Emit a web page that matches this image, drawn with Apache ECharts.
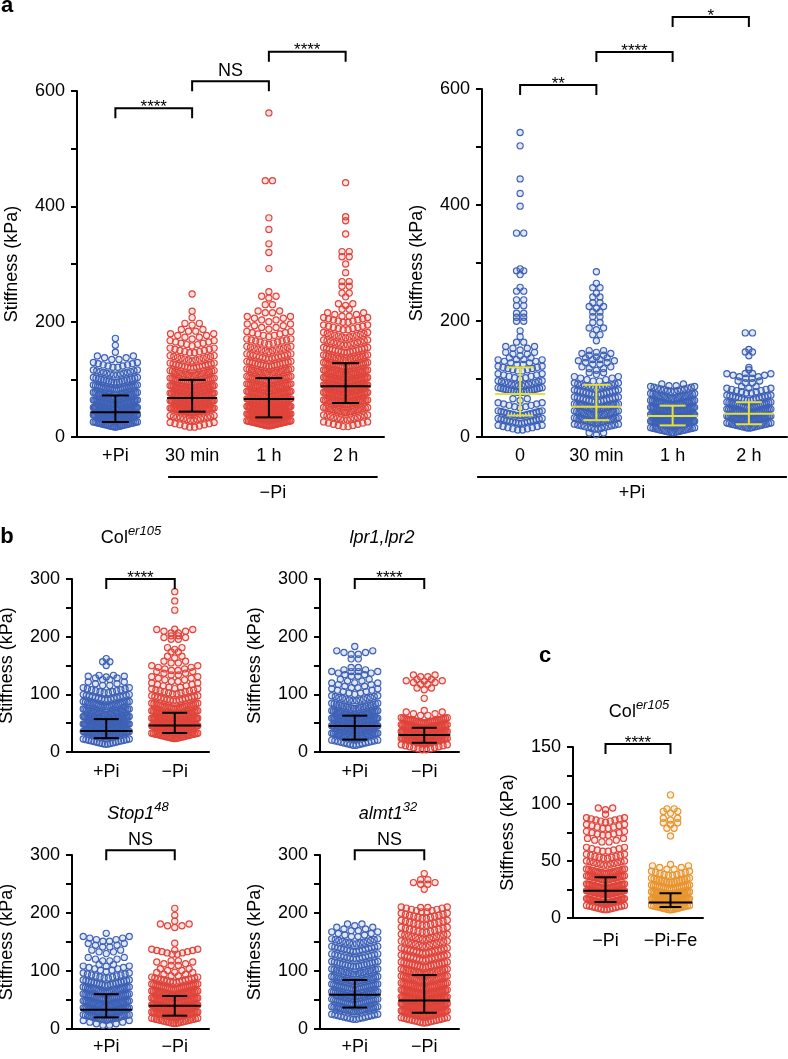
<!DOCTYPE html>
<html><head><meta charset="utf-8">
<script src="https://cdn.jsdelivr.net/npm/echarts@6/dist/echarts.min.js"></script>
<style>html,body{margin:0;padding:0;background:#fff}#c{width:788px;height:1059px}</style>
</head><body><div id="c"></div>
<script>
// ---------------- DATA ----------------
// rows: [stiffness value (kPa), number of points in that row]
const catsA1 = ['+Pi', '30 min', '1 h', '2 h'];
const catsA2 = ['0', '30 min', '1 h', '2 h'];
const catsB = ['+Pi', '\u2212Pi'];
const catsC = ['\u2212Pi', '\u2212Pi-Fe'];

const aL_plusPi = [[171,1],[159,1],[147,1],[133,6],[120,10],[107,14],[94,18],[81,22],[68,26],[55,32],[42,40],[29,36],[17,26]];
const aL_30min = [[248,1],[218,1],[207,1],[194,3],[182,4],[170,7],[158,9],[145,10],[132,13],[119,16],[106,20],[93,24],[80,28],[67,32],[54,34],[41,30],[28,14],[16,10]];
const aL_1h = [[562,1],[443,2],[380,1],[360,1],[335,1],[320,1],[292,1],[252,1],[241,3],[228,2],[214,4],[200,7],[187,7],[174,9],[161,11],[148,13],[135,15],[122,17],[109,20],[96,23],[83,26],[70,30],[57,33],[44,36],[31,42],[19,30]];
const aL_2h = [[441,1],[382,1],[375,1],[352,1],[320,2],[311,2],[300,1],[285,1],[268,2],[260,2],[248,2],[243,1],[228,3],[220,2],[208,6],[198,10],[185,10],[172,13],[159,14],[146,16],[133,19],[120,22],[107,26],[94,30],[81,32],[68,30],[55,26],[42,20],[29,14],[17,10]];
const aL_median = [43, 67.5, 66, 88];
const aL_q1 = [26, 44, 34, 59];
const aL_q3 = [72, 99, 102, 128];
const aL_sig = [[0,1,570,'****'],[1,2,617,'NS'],[2,3,668,'****']];

const aR_0 = [[525,1],[502,1],[445,1],[420,1],[398,1],[350,2],[290,1],[285,2],[280,1],[258,1],[250,2],[235,2],[225,2],[212,2],[205,2],[198,2],[183,1],[173,1],[162,2],[150,5],[140,5],[132,4],[124,8],[113,10],[100,9],[88,14],[76,18],[63,3],[50,9],[36,16],[23,16],[11,10]];
const aR_30min = [[285,1],[265,1],[256,2],[248,1],[240,2],[230,2],[222,3],[214,2],[206,2],[196,2],[185,3],[175,2],[166,1],[146,3],[138,5],[132,4],[124,6],[115,5],[108,3],[95,8],[84,14],[72,16],[60,16],[48,20],[36,20],[24,20],[13,14],[4,3]];
const aR_1h = [[87,4],[78,14],[66,20],[54,26],[42,32],[30,38],[18,38],[7,20]];
const aR_2h = [[178,2],[151,1],[145,2],[140,1],[120,1],[116,1],[108,2],[100,8],[92,4],[84,3],[75,10],[63,16],[51,22],[39,26],[27,28],[15,20]];
const aR_median = [74, 52, 36, 40];
const aR_q1 = [37, 29, 20, 22];
const aR_q3 = [120, 90, 54, 60];
const aR_sig = [[0,1,607,'**'],[1,2,664,'****'],[2,3,724,'*']];

const col_plus = [[162,1],[155,2],[150,1],[130,3],[124,6],[114,6],[102,12],[90,16],[78,22],[65,28],[52,36],[39,40],[26,34],[13,18]];
const col_minus = [[278,1],[262,1],[246,1],[213,1],[205,6],[200,2],[194,4],[178,3],[172,2],[163,3],[153,4],[140,8],[132,6],[121,8],[110,9],[100,12],[88,16],[75,22],[62,30],[49,36],[36,36],[23,28]];
const col_median = [36.6, 46], col_q1 = [24, 33], col_q3 = [57, 68];
const col_sig = [[0,1,300,'****']];

const lpr_plus = [[183,1],[168,6],[160,2],[145,2],[138,4],[130,8],[120,5],[110,8],[100,9],[88,14],[75,20],[62,28],[49,34],[36,34],[23,28],[11,16]];
const lpr_minus = [[129,4],[123,3],[116,6],[108,3],[93,1],[72,1],[62,6],[50,26],[38,32],[26,38],[14,34],[3,12]];
const lpr_median = [45, 29.6], lpr_q1 = [21.5, 16], lpr_q3 = [63, 42];
const lpr_sig = [[0,1,300,'****']];

const stop_plus = [[165,1],[150,8],[140,6],[130,5],[116,6],[108,3],[99,9],[87,12],[75,18],[63,22],[51,26],[39,28],[27,28],[15,22],[5,8]];
const stop_minus = [[208,1],[196,1],[186,1],[175,5],[148,1],[136,1],[128,10],[116,2],[108,6],[98,5],[90,6],[80,16],[68,24],[56,28],[44,32],[32,34],[20,32],[9,20]];
const stop_median = [33, 40], stop_q1 = [20, 23], stop_q3 = [60, 57];
const stop_sig = [[0,1,308,'NS']];

const almt_plus = [[178,3],[168,6],[158,8],[146,14],[133,16],[120,16],[107,18],[94,20],[81,22],[68,24],[55,26],[42,24],[29,22],[16,16]];
const almt_minus = [[268,1],[256,2],[248,4],[241,1],[208,2],[201,10],[190,12],[178,12],[166,12],[154,14],[142,14],[130,16],[118,16],[106,18],[94,20],[82,22],[70,26],[58,30],[46,34],[34,36],[22,32],[10,18]];
const almt_median = [59, 49], almt_q1 = [37, 28], almt_q3 = [84.5, 93];
const almt_sig = [[0,1,308,'NS']];

const c_minusPi = [[95,3],[91,1],[84,9],[78,8],[72,8],[66,6],[58,8],[52,10],[46,12],[39,18],[33,22],[26,26],[20,28],[13,28],[7,14]];
const c_minusPiFe = [[108,1],[95,2],[92,3],[86,3],[82,3],[78,2],[72,1],[47,1],[42,6],[37,10],[31,16],[25,20],[19,24],[13,30],[7,18]];
const c_median = [24, 13.6], c_q1 = [14, 9.6], c_q3 = [35.7, 21.7];
const c_sig = [[0,1,152.6,'****']];

// ---------------- STYLE / LAYOUT ----------------
const BLUE = {stroke: '#3d61b6', fill: 'rgba(61,97,182,0.15)'};
const RED = {stroke: '#e0443a', fill: 'rgba(224,68,58,0.15)'};
const ORANGE = {stroke: '#e8952f', fill: 'rgba(232,149,47,0.15)'};
const YELLOW = '#e3df3c';
const FONT = '"Liberation Sans", Arial, Helvetica, sans-serif';

const panels = [
  {cats: catsA1, groups: [aL_plusPi, aL_30min, aL_1h, aL_2h], colors: [BLUE, RED, RED, RED],
   med: aL_median, q1: aL_q1, q3: aL_q3, sig: aL_sig, bar: '#000',
   left: 77, top: 91, width: 307, height: 346, max: 600, interval: 200, lm: 10, half: 22, medHalf: 25, capHalf: 13.5},
  {cats: catsA2, groups: [aR_0, aR_30min, aR_1h, aR_2h], colors: [BLUE, BLUE, BLUE, BLUE],
   med: aR_median, q1: aR_q1, q3: aR_q3, sig: aR_sig, bar: YELLOW,
   left: 482, top: 89, width: 305, height: 348, max: 600, interval: 200, lm: 10, half: 22, medHalf: 25, capHalf: 13},
  {cats: catsB, groups: [col_plus, col_minus], colors: [BLUE, RED],
   med: col_median, q1: col_q1, q3: col_q3, sig: col_sig, bar: '#000',
   left: 72, top: 579, width: 137, height: 173, max: 300, interval: 100, lm: 11, half: 23, medHalf: 26, capHalf: 12.5},
  {cats: catsB, groups: [lpr_plus, lpr_minus], colors: [BLUE, RED],
   med: lpr_median, q1: lpr_q1, q3: lpr_q3, sig: lpr_sig, bar: '#000',
   left: 320, top: 579, width: 139, height: 173, max: 300, interval: 100, lm: 11, half: 23, medHalf: 26, capHalf: 12.5},
  {cats: catsB, groups: [stop_plus, stop_minus], colors: [BLUE, RED],
   med: stop_median, q1: stop_q1, q3: stop_q3, sig: stop_sig, bar: '#000',
   left: 72, top: 855, width: 137, height: 174, max: 300, interval: 100, lm: 9, half: 23, medHalf: 26, capHalf: 12.5},
  {cats: catsB, groups: [almt_plus, almt_minus], colors: [BLUE, RED],
   med: almt_median, q1: almt_q1, q3: almt_q3, sig: almt_sig, bar: '#000',
   left: 320, top: 855, width: 139, height: 174, max: 300, interval: 100, lm: 9, half: 23, medHalf: 26, capHalf: 12.5},
  {cats: catsC, groups: [c_minusPi, c_minusPiFe], colors: [RED, ORANGE],
   med: c_median, q1: c_q1, q3: c_q3, sig: c_sig, bar: '#000',
   left: 573, top: 747, width: 130, height: 171, max: 150, interval: 50, lm: 14, half: 19, medHalf: 22, capHalf: 11}
];

// dot-plot row layout: spread the points of each row horizontally (pixel offsets)
function swarm(rows, ci, half) {
  const out = [];
  const sp0 = 7.2, k = 0.24;
  rows.forEach(([v, n]) => {
    let sp = sp0;
    if (n > 1 && (n - 1) * sp > 2 * half) sp = 2 * half / (n - 1);
    for (let i = 0; i < n; i++) {
      const dx = (i - (n - 1) / 2) * sp;
      out.push({value: [ci, v], symbolOffset: [dx, -k * Math.abs(dx)]});
    }
  });
  return out;
}

const grids = [], xAxes = [], yAxes = [], series = [];
panels.forEach((p, gi) => {
  grids.push({left: p.left, top: p.top, width: p.width, height: p.height, containLabel: false, outerBoundsMode: 'none'});
  xAxes.push({
    gridIndex: gi, type: 'category', data: p.cats, boundaryGap: true,
    axisLine: {lineStyle: {color: '#000', width: 2}},
    axisTick: {alignWithLabel: true, length: 6, lineStyle: {color: '#000', width: 2}},
    axisLabel: {color: '#000', fontSize: 18, fontFamily: FONT, margin: p.lm, interval: 0},
    splitLine: {show: false}
  });
  yAxes.push({
    gridIndex: gi, type: 'value', min: 0, max: p.max, interval: p.interval,
    axisLine: {show: true, lineStyle: {color: '#000', width: 2}},
    axisTick: {show: true, length: 6, lineStyle: {color: '#000', width: 2}},
    minorTick: {show: true, splitNumber: 2, length: 6, lineStyle: {color: '#000', width: 2}},
    axisLabel: {color: '#000', fontSize: 18, fontFamily: FONT, margin: 12},
    splitLine: {show: false}, minorSplitLine: {show: false},
    name: 'Stiffness (kPa)', nameLocation: 'middle', nameGap: 56, nameRotate: 90,
    nameTextStyle: {color: '#000', fontSize: 18, fontFamily: FONT}
  });
  p.groups.forEach((rows, ci) => {
    series.push({
      type: 'scatter', xAxisIndex: gi, yAxisIndex: gi, data: swarm(rows, ci, p.half),
      symbol: 'circle', symbolSize: 6.2, silent: true, animation: false, z: 2,
      large: false, progressive: 0,
      itemStyle: {color: p.colors[ci].fill, borderColor: p.colors[ci].stroke, borderWidth: 1.15, opacity: 1}
    });
  });
  // median + interquartile range
  series.push({
    type: 'custom', xAxisIndex: gi, yAxisIndex: gi, silent: true, animation: false, z: 5,
    data: p.med.map((m, i) => [i, m, p.q1[i], p.q3[i]]),
    encode: {x: 0, y: [1, 2, 3]},
    renderItem: (params, api) => {
      const i = api.value(0);
      const pm = api.coord([i, api.value(1)]);
      const pa = api.coord([i, api.value(2)]);
      const pb = api.coord([i, api.value(3)]);
      const st = {stroke: p.bar, lineWidth: 2};
      return {type: 'group', children: [
        {type: 'line', shape: {x1: pm[0] - p.medHalf, y1: pm[1], x2: pm[0] + p.medHalf, y2: pm[1]}, style: st},
        {type: 'line', shape: {x1: pm[0], y1: pa[1], x2: pm[0], y2: pb[1]}, style: st},
        {type: 'line', shape: {x1: pm[0] - p.capHalf, y1: pa[1], x2: pm[0] + p.capHalf, y2: pa[1]}, style: st},
        {type: 'line', shape: {x1: pm[0] - p.capHalf, y1: pb[1], x2: pm[0] + p.capHalf, y2: pb[1]}, style: st}
      ]};
    }
  });
  // significance brackets
  series.push({
    type: 'custom', xAxisIndex: gi, yAxisIndex: gi, silent: true, animation: false, clip: false, z: 6,
    data: p.sig.map(s => [s[0], s[2], s[1]]),
    encode: {x: [0, 2], y: 1},
    renderItem: (params, api) => {
      const s = p.sig[params.dataIndex];
      const a = api.coord([s[0], s[2]]);
      const b = api.coord([s[1], s[2]]);
      const drop = 10;
      const isStar = s[3].indexOf('*') >= 0;
      return {type: 'group', children: [
        {type: 'polyline', shape: {points: [[a[0], a[1] + drop], [a[0], a[1]], [b[0], a[1]], [b[0], a[1] + drop]]},
         style: {stroke: '#000', lineWidth: 2, fill: null}},
        {type: 'text', x: (a[0] + b[0]) / 2, y: isStar ? a[1] - 1 : a[1] - 10.5,
         style: {text: s[3], fill: '#000', fontSize: isStar ? 17 : 18, fontFamily: FONT,
                 align: 'center', verticalAlign: 'middle', textAlign: 'center', textVerticalAlign: 'middle'}}
      ]};
    }
  });
});

// group underline labels below panel a
const groupBars = [
  {grid: 0, from: 1, to: 3, extL: 24, extR: 32, label: '\u2212Pi'},
  {grid: 1, from: 0, to: 3, extL: 43, extR: 38, label: '+Pi'}
];
groupBars.forEach(g => {
  series.push({
    type: 'custom', xAxisIndex: g.grid, yAxisIndex: g.grid, silent: true, animation: false, clip: false, z: 6,
    data: [[g.from, 0, g.to]], encode: {x: [0, 2], y: 1},
    renderItem: (params, api) => {
      const a = api.coord([g.from, 0]);
      const b = api.coord([g.to, 0]);
      const y = a[1] + 40;
      return {type: 'group', children: [
        {type: 'line', shape: {x1: a[0] - g.extL, y1: y, x2: b[0] + g.extR, y2: y}, style: {stroke: '#000', lineWidth: 2}},
        {type: 'text', x: (a[0] - g.extL + b[0] + g.extR) / 2, y: y + 16,
         style: {text: g.label, fill: '#000', fontSize: 18, fontFamily: FONT,
                 align: 'center', verticalAlign: 'middle', textAlign: 'center', textVerticalAlign: 'middle'}}
      ]};
    }
  });
});

function txt(x, y, text, extra) {
  return Object.assign({type: 'text', x: x, y: y, silent: true,
    style: Object.assign({text: text, fill: '#000', fontSize: 18, fontFamily: FONT,
      align: 'center', verticalAlign: 'top', textAlign: 'center', textVerticalAlign: 'top'}, extra || {})});
}
const supRich = (italicBase) => ({
  b: {fontSize: 18, fontFamily: FONT, fontStyle: italicBase ? 'italic' : 'normal', lineHeight: 22, verticalAlign: 'bottom', fill: '#000', color: '#000'},
  s: {fontSize: 13, fontFamily: FONT, fontStyle: 'italic', lineHeight: 22, verticalAlign: 'top', fill: '#000', color: '#000'}
});

const graphic = [
  txt(7, 6, 'a', {fontSize: 22, fontWeight: 'bold', verticalAlign: 'middle', textVerticalAlign: 'middle'}),
  txt(7, 537, 'b', {fontSize: 22, fontWeight: 'bold', verticalAlign: 'middle', textVerticalAlign: 'middle'}),
  txt(545, 656, 'c', {fontSize: 22, fontWeight: 'bold', verticalAlign: 'middle', textVerticalAlign: 'middle'}),
  txt(131, 525, '{b|Col}{s|er105}', {rich: supRich(false)}),
  txt(382, 525, '{b|lpr1,lpr2}', {rich: supRich(true)}),
  txt(138, 801, '{b|Stop1}{s|48}', {rich: supRich(true)}),
  txt(388, 801, '{b|almt1}{s|32}', {rich: supRich(true)}),
  txt(639, 699, '{b|Col}{s|er105}', {rich: supRich(false)})
];

const chart = echarts.init(document.getElementById('c'), null, {renderer: 'canvas'});
chart.setOption({
  backgroundColor: '#fff',
  animation: false,
  textStyle: {fontFamily: FONT},
  grid: grids, xAxis: xAxes, yAxis: yAxes, series: series, graphic: graphic
});
</script></body></html>
